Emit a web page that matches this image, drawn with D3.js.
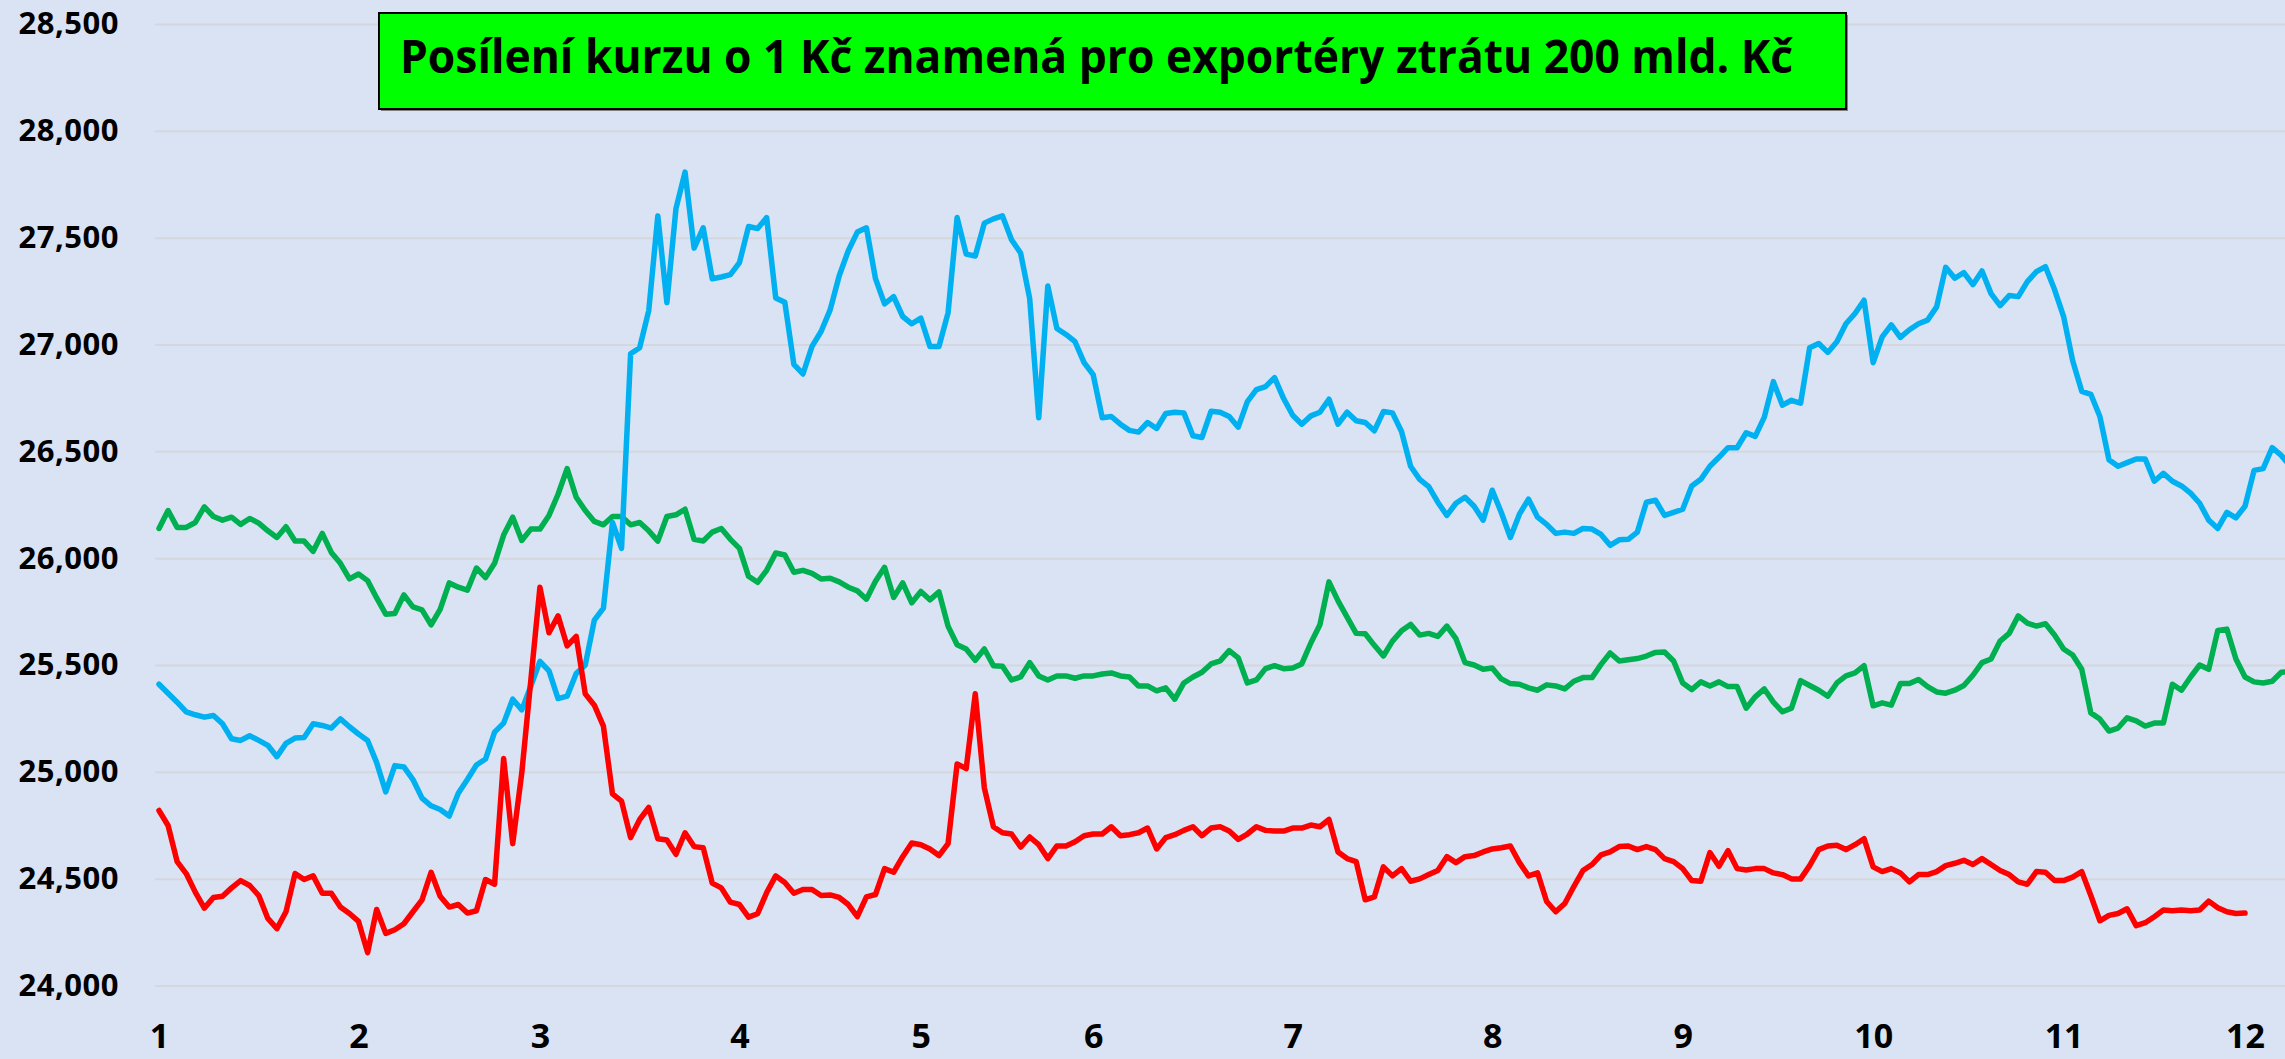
<!DOCTYPE html>
<html lang="cs">
<head>
    <meta charset="UTF-8">
    <title>Kurz CZK/EUR</title>
    <style>
        body { margin: 0; background: #dae3f3; }
        svg text { font-family: "Open Sans", sans-serif; font-weight: 700; fill: #000; }
    </style>
</head>
<body>

<div id="chart-container"></div>

<script src="https://d3js.org/d3.v7.min.js"></script>
<script>
    // trading-day index where each month starts, and its label
    const monthStart = [0, 22, 42, 64, 84, 103, 125, 147, 168, 189, 210, 230];
    const monthLabels = ['1', '2', '3', '4', '5', '6', '7', '8', '9', '10', '11', '12'];
    const yTicks = [24000, 24500, 25000, 25500, 26000, 26500, 27000, 27500, 28000, 28500];

    const blueValues = [
        25410,25368,25326,25281,25267,25256,25264,25225,25155,25147,
        25169,25147,25124,25071,25133,25158,25161,25225,25217,25205,
        25248,25211,25177,25147,25043,24906,25029,25023,24964,24877,
        24841,24824,24793,24900,24964,25032,25060,25186,25228,25340,
        25290,25402,25517,25472,25343,25354,25460,25500,25710,25766,
        26167,26046,26957,26985,27159,27602,27196,27636,27807,27451,
        27546,27308,27316,27327,27383,27552,27543,27594,27218,27198,
        26907,26862,26991,27061,27162,27322,27439,27526,27546,27308,
        27190,27224,27131,27097,27123,26991,26991,27148,27594,27423,
        27414,27568,27588,27602,27490,27428,27215,26657,27274,27075,
        27047,27013,26915,26859,26657,26663,26627,26598,26590,26635,
        26607,26677,26683,26680,26573,26565,26688,26683,26663,26613,
        26733,26789,26803,26845,26747,26669,26627,26666,26683,26744,
        26627,26683,26643,26635,26596,26686,26680,26593,26430,26369,
        26335,26262,26200,26257,26285,26243,26178,26318,26214,26097,
        26206,26276,26192,26158,26116,26122,26116,26139,26136,26111,
        26060,26086,26088,26122,26262,26271,26200,26214,26229,26338,
        26369,26430,26472,26517,26517,26587,26570,26660,26826,26716,
        26739,26725,26985,27005,26963,27013,27097,27145,27207,26915,
        27036,27092,27033,27069,27097,27114,27176,27361,27310,27336,
        27280,27344,27238,27182,27229,27224,27294,27341,27364,27257,
        27131,26924,26781,26767,26663,26461,26430,26447,26464,26464,
        26360,26397,26360,26338,26304,26257,26178,26139,26214,26189,
        26243,26411,26419,26517,26481,26430
    ];

    const greenValues = [
        26139,26223,26144,26144,26167,26240,26195,26178,26192,26158,
        26186,26164,26128,26097,26147,26080,26080,26032,26116,26027,
        25976,25903,25926,25895,25814,25738,25741,25828,25772,25758,
        25688,25760,25884,25864,25850,25954,25909,25976,26108,26192,
        26083,26136,26136,26200,26299,26419,26285,26223,26172,26156,
        26195,26195,26156,26167,26128,26080,26195,26203,26229,26088,
        26080,26122,26139,26088,26046,25915,25887,25943,26024,26015,
        25934,25943,25929,25903,25906,25889,25864,25847,25808,25892,
        25957,25816,25884,25791,25844,25805,25842,25682,25595,25575,
        25522,25575,25497,25494,25430,25444,25511,25449,25430,25449,
        25449,25438,25449,25449,25458,25463,25449,25444,25402,25402,
        25379,25393,25340,25416,25444,25466,25505,25519,25567,25533,
        25416,25430,25483,25497,25483,25486,25505,25603,25688,25889,
        25800,25724,25648,25646,25592,25542,25612,25660,25690,25640,
        25648,25634,25682,25623,25511,25500,25480,25486,25435,25413,
        25410,25393,25382,25407,25402,25388,25424,25441,25441,25503,
        25556,25519,25525,25530,25542,25559,25561,25519,25416,25385,
        25421,25402,25421,25399,25399,25298,25351,25388,25326,25281,
        25298,25427,25404,25382,25354,25416,25449,25463,25497,25309,
        25323,25312,25413,25413,25432,25399,25374,25368,25382,25404,
        25452,25511,25528,25612,25648,25730,25696,25682,25693,25640,
        25575,25547,25480,25276,25247,25191,25205,25253,25239,25214,
        25228,25228,25410,25382,25444,25500,25480,25662,25668,25528,
        25444,25421,25416,25424,25466,25470
    ];

    const redValues = [
        24819,24749,24580,24524,24437,24362,24412,24418,24457,24491,
        24468,24421,24314,24266,24345,24524,24496,24513,24432,24432,
        24367,24337,24300,24154,24356,24244,24261,24289,24345,24401,
        24530,24418,24367,24379,24339,24350,24496,24474,25062,24664,
        24995,25430,25864,25651,25730,25589,25634,25365,25312,25214,
        24897,24863,24692,24777,24833,24687,24681,24614,24715,24650,
        24645,24479,24457,24390,24379,24320,24336,24435,24513,24482,
        24432,24449,24449,24421,24424,24412,24379,24322,24415,24426,
        24547,24530,24603,24667,24659,24639,24608,24664,25037,25015,
        25365,24925,24743,24715,24709,24648,24695,24659,24594,24653,
        24653,24673,24701,24709,24709,24743,24701,24706,24715,24737,
        24639,24692,24706,24726,24743,24701,24737,24743,24723,24684,
        24709,24743,24726,24723,24723,24737,24737,24751,24743,24777,
        24625,24594,24580,24401,24415,24555,24513,24547,24488,24499,
        24519,24538,24603,24575,24603,24608,24625,24639,24645,24653,
        24575,24513,24527,24393,24345,24384,24463,24538,24566,24611,
        24625,24650,24653,24636,24650,24636,24594,24580,24547,24491,
        24488,24622,24558,24631,24547,24541,24547,24547,24527,24519,
        24499,24499,24561,24636,24653,24656,24636,24659,24687,24555,
        24533,24547,24527,24485,24519,24519,24533,24561,24572,24586,
        24566,24594,24566,24538,24519,24485,24474,24533,24530,24491,
        24491,24507,24533,24421,24303,24328,24337,24359,24280,24294,
        24322,24353,24350,24353,24350,24353,24395,24364,24345,24337,
        24339
    ];

    const titleText = 'Posílení kurzu o 1 Kč znamená pro exportéry ztrátu 200 mld. Kč';

    const width = 2285;
    const height = 1059;
    const plotLeft = 155;

    const svg = d3.select('#chart-container')
        .append('svg')
        .attr('width', width)
        .attr('height', height);

    svg.append('rect')
        .attr('width', width)
        .attr('height', height)
        .attr('fill', '#dae3f3');

    const x = d3.scaleLinear().domain([0, 230]).range([159, 2245]);
    const y = d3.scaleLinear().domain([24000, 28500]).range([985.5, 24]);

    // y axis: gridlines + labels
    const yAxis = svg.append('g')
        .attr('transform', `translate(${plotLeft},0)`)
        .call(d3.axisLeft(y)
            .tickValues(yTicks)
            .tickFormat(d3.format(','))
            .tickSize(-(width - plotLeft))
            .tickPadding(36));
    yAxis.select('.domain').remove();
    yAxis.selectAll('.tick line')
        .attr('stroke', '#d4d8de')
        .attr('stroke-width', 2);
    yAxis.selectAll('.tick text')
        .style('font-size', '31px')
        .attr('letter-spacing', '0.5px');

    // x axis: month labels only (kept clear of the bottom edge)
    const xAxis = svg.append('g')
        .attr('transform', 'translate(0,1024)')
        .call(d3.axisBottom(x)
            .tickValues(monthStart)
            .tickFormat((d, i) => monthLabels[i])
            .tickSize(0)
            .tickPadding(0));
    xAxis.select('.domain').remove();
    xAxis.selectAll('.tick text')
        .style('font-size', '34px');

    // lines
    const line = d3.line()
        .x((d, i) => x(i))
        .y(d => y(d));

    const series = [
        { values: greenValues, color: '#00b050' },
        { values: blueValues, color: '#00b0f0' },
        { values: redValues, color: '#ff0000' }
    ];

    svg.selectAll('.series')
        .data(series)
        .enter()
        .append('path')
        .attr('class', 'series')
        .attr('fill', 'none')
        .attr('stroke', d => d.color)
        .attr('stroke-width', 5.5)
        .attr('stroke-linejoin', 'round')
        .attr('stroke-linecap', 'round')
        .attr('d', d => line(d.values));

    // title box
    const title = svg.append('g');
    title.append('rect')
        .attr('x', 381)
        .attr('y', 15)
        .attr('width', 1467)
        .attr('height', 96)
        .attr('fill', '#7f7f7f');
    title.append('rect')
        .attr('x', 379)
        .attr('y', 13)
        .attr('width', 1467)
        .attr('height', 96)
        .attr('fill', '#00ff00')
        .attr('stroke', '#000')
        .attr('stroke-width', 2);
    title.append('text')
        .attr('x', 400)
        .attr('y', 73)
        .attr('textLength', 1393)
        .attr('lengthAdjust', 'spacingAndGlyphs')
        .style('font-size', '46px')
        .text(titleText);
</script>

</body>
</html>
